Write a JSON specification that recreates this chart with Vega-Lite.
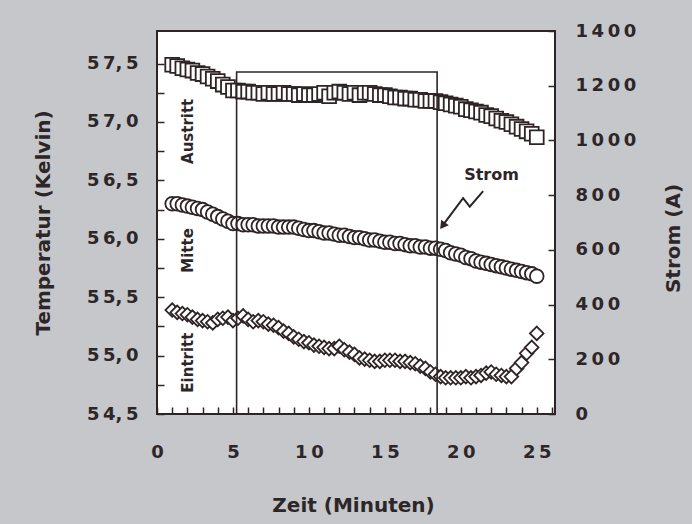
{
  "$schema": "https://vega.github.io/schema/vega-lite/v6.json",
  "width": 398,
  "height": 383,
  "autosize": {"type": "none"},
  "padding": {"left": 157, "top": 31, "right": 137, "bottom": 110},
  "background": "#c5c7cb",
  "config": {
    "view": {"fill": "#ffffff", "stroke": "#2e2426", "strokeWidth": 2},
    "font": "DejaVu Sans",
    "axis": {
      "domain": false, "grid": false,
      "labelFont": "DejaVu Sans", "labelFontWeight": "bold", "labelFontSize": 18, "labelColor": "#2d2628",
      "titleFont": "DejaVu Sans", "titleFontWeight": "bold", "titleFontSize": 20, "titleColor": "#2d2628",
      "tickColor": "#2e2426", "tickWidth": 1.5, "tickSize": -7,
      "labelOverlap": false, "labelFlush": false
    }
  },
  "datasets": {
    "temp": [
      {"s":"Austritt","x":1,"t":57.49},{"s":"Austritt","x":1.33,"t":57.48},{"s":"Austritt","x":1.67,"t":57.46},{"s":"Austritt","x":2,"t":57.45},{"s":"Austritt","x":2.33,"t":57.44},{"s":"Austritt","x":2.67,"t":57.42},{"s":"Austritt","x":3,"t":57.41},{"s":"Austritt","x":3.33,"t":57.39},{"s":"Austritt","x":3.67,"t":57.37},{"s":"Austritt","x":4,"t":57.35},{"s":"Austritt","x":4.33,"t":57.32},{"s":"Austritt","x":4.67,"t":57.3},{"s":"Austritt","x":5,"t":57.27},{"s":"Austritt","x":5.33,"t":57.27},{"s":"Austritt","x":5.67,"t":57.26},{"s":"Austritt","x":6,"t":57.26},{"s":"Austritt","x":6.33,"t":57.25},{"s":"Austritt","x":6.67,"t":57.25},{"s":"Austritt","x":7,"t":57.24},{"s":"Austritt","x":7.33,"t":57.25},{"s":"Austritt","x":7.67,"t":57.24},{"s":"Austritt","x":8,"t":57.24},{"s":"Austritt","x":8.33,"t":57.25},{"s":"Austritt","x":8.67,"t":57.24},{"s":"Austritt","x":9,"t":57.24},{"s":"Austritt","x":9.33,"t":57.23},{"s":"Austritt","x":9.67,"t":57.24},{"s":"Austritt","x":10,"t":57.23},{"s":"Austritt","x":10.33,"t":57.23},{"s":"Austritt","x":10.67,"t":57.24},{"s":"Austritt","x":11,"t":57.25},{"s":"Austritt","x":11.33,"t":57.22},{"s":"Austritt","x":11.67,"t":57.25},{"s":"Austritt","x":12,"t":57.26},{"s":"Austritt","x":12.33,"t":57.25},{"s":"Austritt","x":12.67,"t":57.24},{"s":"Austritt","x":13,"t":57.25},{"s":"Austritt","x":13.33,"t":57.23},{"s":"Austritt","x":13.67,"t":57.25},{"s":"Austritt","x":14,"t":57.25},{"s":"Austritt","x":14.33,"t":57.24},{"s":"Austritt","x":14.67,"t":57.23},{"s":"Austritt","x":15,"t":57.23},{"s":"Austritt","x":15.33,"t":57.22},{"s":"Austritt","x":15.67,"t":57.21},{"s":"Austritt","x":16,"t":57.21},{"s":"Austritt","x":16.33,"t":57.2},{"s":"Austritt","x":16.67,"t":57.2},{"s":"Austritt","x":17,"t":57.19},{"s":"Austritt","x":17.33,"t":57.19},{"s":"Austritt","x":17.67,"t":57.18},{"s":"Austritt","x":18,"t":57.18},{"s":"Austritt","x":18.33,"t":57.18},{"s":"Austritt","x":18.67,"t":57.17},{"s":"Austritt","x":19,"t":57.16},{"s":"Austritt","x":19.33,"t":57.15},{"s":"Austritt","x":19.67,"t":57.14},{"s":"Austritt","x":20,"t":57.13},{"s":"Austritt","x":20.33,"t":57.11},{"s":"Austritt","x":20.67,"t":57.1},{"s":"Austritt","x":21,"t":57.09},{"s":"Austritt","x":21.33,"t":57.08},{"s":"Austritt","x":21.67,"t":57.06},{"s":"Austritt","x":22,"t":57.05},{"s":"Austritt","x":22.33,"t":57.03},{"s":"Austritt","x":22.67,"t":57.01},{"s":"Austritt","x":23,"t":57.0},{"s":"Austritt","x":23.33,"t":56.98},{"s":"Austritt","x":23.67,"t":56.96},{"s":"Austritt","x":24,"t":56.94},{"s":"Austritt","x":24.33,"t":56.92},{"s":"Austritt","x":24.67,"t":56.9},{"s":"Austritt","x":25,"t":56.87},
      {"s":"Mitte","x":1,"t":56.3},{"s":"Mitte","x":1.33,"t":56.3},{"s":"Mitte","x":1.67,"t":56.29},{"s":"Mitte","x":2,"t":56.28},{"s":"Mitte","x":2.33,"t":56.27},{"s":"Mitte","x":2.67,"t":56.26},{"s":"Mitte","x":3,"t":56.25},{"s":"Mitte","x":3.33,"t":56.23},{"s":"Mitte","x":3.67,"t":56.21},{"s":"Mitte","x":4,"t":56.19},{"s":"Mitte","x":4.33,"t":56.17},{"s":"Mitte","x":4.67,"t":56.15},{"s":"Mitte","x":5,"t":56.13},{"s":"Mitte","x":5.33,"t":56.13},{"s":"Mitte","x":5.67,"t":56.12},{"s":"Mitte","x":6,"t":56.12},{"s":"Mitte","x":6.33,"t":56.12},{"s":"Mitte","x":6.67,"t":56.11},{"s":"Mitte","x":7,"t":56.11},{"s":"Mitte","x":7.33,"t":56.11},{"s":"Mitte","x":7.67,"t":56.11},{"s":"Mitte","x":8,"t":56.1},{"s":"Mitte","x":8.33,"t":56.1},{"s":"Mitte","x":8.67,"t":56.1},{"s":"Mitte","x":9,"t":56.1},{"s":"Mitte","x":9.33,"t":56.09},{"s":"Mitte","x":9.67,"t":56.08},{"s":"Mitte","x":10,"t":56.07},{"s":"Mitte","x":10.33,"t":56.07},{"s":"Mitte","x":10.67,"t":56.06},{"s":"Mitte","x":11,"t":56.05},{"s":"Mitte","x":11.33,"t":56.05},{"s":"Mitte","x":11.67,"t":56.04},{"s":"Mitte","x":12,"t":56.03},{"s":"Mitte","x":12.33,"t":56.03},{"s":"Mitte","x":12.67,"t":56.02},{"s":"Mitte","x":13,"t":56.01},{"s":"Mitte","x":13.33,"t":56.01},{"s":"Mitte","x":13.67,"t":56.0},{"s":"Mitte","x":14,"t":55.99},{"s":"Mitte","x":14.33,"t":55.99},{"s":"Mitte","x":14.67,"t":55.98},{"s":"Mitte","x":15,"t":55.97},{"s":"Mitte","x":15.33,"t":55.97},{"s":"Mitte","x":15.67,"t":55.96},{"s":"Mitte","x":16,"t":55.96},{"s":"Mitte","x":16.33,"t":55.95},{"s":"Mitte","x":16.67,"t":55.94},{"s":"Mitte","x":17,"t":55.94},{"s":"Mitte","x":17.33,"t":55.93},{"s":"Mitte","x":17.67,"t":55.93},{"s":"Mitte","x":18,"t":55.92},{"s":"Mitte","x":18.33,"t":55.92},{"s":"Mitte","x":18.67,"t":55.91},{"s":"Mitte","x":19,"t":55.9},{"s":"Mitte","x":19.33,"t":55.88},{"s":"Mitte","x":19.67,"t":55.87},{"s":"Mitte","x":20,"t":55.86},{"s":"Mitte","x":20.33,"t":55.84},{"s":"Mitte","x":20.67,"t":55.83},{"s":"Mitte","x":21,"t":55.81},{"s":"Mitte","x":21.33,"t":55.8},{"s":"Mitte","x":21.67,"t":55.79},{"s":"Mitte","x":22,"t":55.78},{"s":"Mitte","x":22.33,"t":55.77},{"s":"Mitte","x":22.67,"t":55.76},{"s":"Mitte","x":23,"t":55.75},{"s":"Mitte","x":23.33,"t":55.74},{"s":"Mitte","x":23.67,"t":55.73},{"s":"Mitte","x":24,"t":55.72},{"s":"Mitte","x":24.33,"t":55.71},{"s":"Mitte","x":24.67,"t":55.7},{"s":"Mitte","x":25,"t":55.68},
      {"s":"Eintritt","x":1,"t":55.39},{"s":"Eintritt","x":1.33,"t":55.37},{"s":"Eintritt","x":1.67,"t":55.36},{"s":"Eintritt","x":2,"t":55.35},{"s":"Eintritt","x":2.33,"t":55.33},{"s":"Eintritt","x":2.67,"t":55.31},{"s":"Eintritt","x":3,"t":55.3},{"s":"Eintritt","x":3.33,"t":55.29},{"s":"Eintritt","x":3.67,"t":55.28},{"s":"Eintritt","x":4,"t":55.31},{"s":"Eintritt","x":4.33,"t":55.32},{"s":"Eintritt","x":4.67,"t":55.33},{"s":"Eintritt","x":5,"t":55.3},{"s":"Eintritt","x":5.33,"t":55.32},{"s":"Eintritt","x":5.67,"t":55.34},{"s":"Eintritt","x":6,"t":55.31},{"s":"Eintritt","x":6.33,"t":55.29},{"s":"Eintritt","x":6.67,"t":55.3},{"s":"Eintritt","x":7,"t":55.29},{"s":"Eintritt","x":7.33,"t":55.27},{"s":"Eintritt","x":7.67,"t":55.26},{"s":"Eintritt","x":8,"t":55.24},{"s":"Eintritt","x":8.33,"t":55.21},{"s":"Eintritt","x":8.67,"t":55.19},{"s":"Eintritt","x":9,"t":55.16},{"s":"Eintritt","x":9.33,"t":55.14},{"s":"Eintritt","x":9.67,"t":55.12},{"s":"Eintritt","x":10,"t":55.11},{"s":"Eintritt","x":10.33,"t":55.09},{"s":"Eintritt","x":10.67,"t":55.08},{"s":"Eintritt","x":11,"t":55.07},{"s":"Eintritt","x":11.33,"t":55.06},{"s":"Eintritt","x":11.67,"t":55.06},{"s":"Eintritt","x":12,"t":55.08},{"s":"Eintritt","x":12.33,"t":55.05},{"s":"Eintritt","x":12.67,"t":55.03},{"s":"Eintritt","x":13,"t":55.01},{"s":"Eintritt","x":13.33,"t":54.98},{"s":"Eintritt","x":13.67,"t":54.97},{"s":"Eintritt","x":14,"t":54.96},{"s":"Eintritt","x":14.33,"t":54.95},{"s":"Eintritt","x":14.67,"t":54.95},{"s":"Eintritt","x":15,"t":54.96},{"s":"Eintritt","x":15.33,"t":54.96},{"s":"Eintritt","x":15.67,"t":54.96},{"s":"Eintritt","x":16,"t":54.95},{"s":"Eintritt","x":16.33,"t":54.95},{"s":"Eintritt","x":16.67,"t":54.94},{"s":"Eintritt","x":17,"t":54.93},{"s":"Eintritt","x":17.33,"t":54.91},{"s":"Eintritt","x":17.67,"t":54.89},{"s":"Eintritt","x":18,"t":54.86},{"s":"Eintritt","x":18.33,"t":54.84},{"s":"Eintritt","x":18.67,"t":54.82},{"s":"Eintritt","x":19,"t":54.81},{"s":"Eintritt","x":19.33,"t":54.81},{"s":"Eintritt","x":19.67,"t":54.81},{"s":"Eintritt","x":20,"t":54.81},{"s":"Eintritt","x":20.33,"t":54.82},{"s":"Eintritt","x":20.67,"t":54.81},{"s":"Eintritt","x":21,"t":54.82},{"s":"Eintritt","x":21.33,"t":54.83},{"s":"Eintritt","x":21.67,"t":54.85},{"s":"Eintritt","x":22,"t":54.86},{"s":"Eintritt","x":22.33,"t":54.84},{"s":"Eintritt","x":22.67,"t":54.83},{"s":"Eintritt","x":23,"t":54.82},{"s":"Eintritt","x":23.33,"t":54.82},{"s":"Eintritt","x":23.67,"t":54.89},{"s":"Eintritt","x":24,"t":54.94},{"s":"Eintritt","x":24.33,"t":55.02},{"s":"Eintritt","x":24.67,"t":55.07},{"s":"Eintritt","x":25,"t":55.19}
    ],
    "labels": [
      {"x": 2.04, "t": 56.92, "label": "Austritt"},
      {"x": 2.04, "t": 55.9, "label": "Mitte"},
      {"x": 2.04, "t": 54.94, "label": "Eintritt"}
    ],
    "strom": [
      {"x": 5.24, "a": 0, "o": 1},
      {"x": 5.24, "a": 1250, "o": 2},
      {"x": 18.44, "a": 1250, "o": 3},
      {"x": 18.44, "a": 0, "o": 4}
    ],
    "arrow": [
      {"x": 21.47, "a": 815, "o": 1},
      {"x": 20.59, "a": 758, "o": 2},
      {"x": 20.15, "a": 789, "o": 3},
      {"x": 18.86, "a": 693, "o": 4}
    ],
    "head": [{"x": 18.8, "a": 688}],
    "stromtext": [{"x": 22.02, "a": 874, "label": "Strom"}]
  },
  "layer": [
    {
      "encoding": {
        "x": {
          "field": "x", "type": "quantitative",
          "scale": {"domain": [0, 26.2], "nice": false, "zero": false},
          "axis": {
            "values": [0,1,2,3,4,5,6,7,8,9,10,11,12,13,14,15,16,17,18,19,20,21,22,23,24,25,26],
            "labelExpr": "datum.value % 5 === 0 ? join(split(format(datum.value,'d'),''),'\u2009') : ''",
            "labelPadding": 45, "labelBaseline": "middle",
            "title": "Zeit (Minuten)", "titleX": 196, "titleY": 91,
            "titleAlign": "center", "titleBaseline": "middle"
          }
        },
        "y": {
          "field": "t", "type": "quantitative",
          "scale": {"domain": [54.5, 57.779], "nice": false, "zero": false},
          "axis": {
            "orient": "left",
            "values": [54.5,54.75,55,55.25,55.5,55.75,56,56.25,56.5,56.75,57,57.25,57.5],
            "labelExpr": "(datum.value*2) % 1 === 0 ? substring(replace(format(datum.value,'.1f'),'.',','),0,1) + '\u2009' + substring(replace(format(datum.value,'.1f'),'.',','),1,3) + '\u2009' + substring(replace(format(datum.value,'.1f'),'.',','),3,4) : ''",
            "labelPadding": 26,
            "title": "Temperatur (Kelvin)", "titleAngle": 270, "titleX": -114, "titleY": 191.5,
            "titleAlign": "center", "titleBaseline": "middle"
          }
        }
      },
      "layer": [
        {
          "data": {"name": "temp"},
          "mark": {"type": "point", "filled": true, "fill": "#ffffff", "stroke": "#2e2426", "strokeWidth": 1.8, "opacity": 1, "fillOpacity": 1, "strokeOpacity": 1},
          "encoding": {
            "shape": {"field": "s", "type": "nominal", "scale": {"domain": ["Austritt", "Mitte", "Eintritt"], "range": ["square", "circle", "diamond"]}, "legend": null},
            "size": {"field": "s", "type": "nominal", "scale": {"domain": ["Austritt", "Mitte", "Eintritt"], "range": [190, 185, 240]}, "legend": null}
          }
        },
        {
          "data": {"name": "labels"},
          "mark": {"type": "text", "angle": 270, "font": "DejaVu Sans", "fontWeight": "bold", "fontSize": 15, "color": "#2d2628", "align": "center", "baseline": "middle"},
          "encoding": {"text": {"field": "label", "type": "nominal"}}
        }
      ]
    },
    {
      "encoding": {
        "x": {
          "field": "x", "type": "quantitative",
          "scale": {"domain": [0, 26.2], "nice": false, "zero": false},
          "axis": {
            "values": [0,1,2,3,4,5,6,7,8,9,10,11,12,13,14,15,16,17,18,19,20,21,22,23,24,25,26],
            "labelExpr": "datum.value % 5 === 0 ? join(split(format(datum.value,'d'),''),'\u2009') : ''",
            "labelPadding": 45, "labelBaseline": "middle",
            "title": "Zeit (Minuten)", "titleX": 196, "titleY": 91,
            "titleAlign": "center", "titleBaseline": "middle"
          }
        },
        "y": {
          "field": "a", "type": "quantitative",
          "scale": {"domain": [0, 1400], "nice": false},
          "axis": {
            "orient": "right",
            "values": [0,200,400,600,800,1000,1200,1400],
            "labelExpr": "join(split(format(datum.value,'d'),''),'\u2009')",
            "labelPadding": 27, "labelAlign": "left",
            "title": "Strom (A)", "titleAngle": 270, "titleX": 118, "titleY": 207,
            "titleAlign": "center", "titleBaseline": "middle"
          }
        }
      },
      "layer": [
        {
          "data": {"name": "strom"},
          "mark": {"type": "line", "color": "#2e2426", "strokeWidth": 1.6},
          "encoding": {"order": {"field": "o", "type": "quantitative"}}
        },
        {
          "data": {"name": "arrow"},
          "mark": {"type": "line", "color": "#2e2426", "strokeWidth": 2},
          "encoding": {"order": {"field": "o", "type": "quantitative"}}
        },
        {
          "data": {"name": "head"},
          "mark": {"type": "point", "shape": "triangle-up", "filled": true, "color": "#2e2426", "size": 90, "angle": 216, "opacity": 1}
        },
        {
          "data": {"name": "stromtext"},
          "mark": {"type": "text", "font": "DejaVu Sans", "fontWeight": "bold", "fontSize": 16, "color": "#2d2628", "align": "center", "baseline": "middle"},
          "encoding": {"text": {"field": "label", "type": "nominal"}}
        }
      ]
    }
  ],
  "resolve": {"scale": {"y": "independent"}, "axis": {"y": "independent"}}
}
